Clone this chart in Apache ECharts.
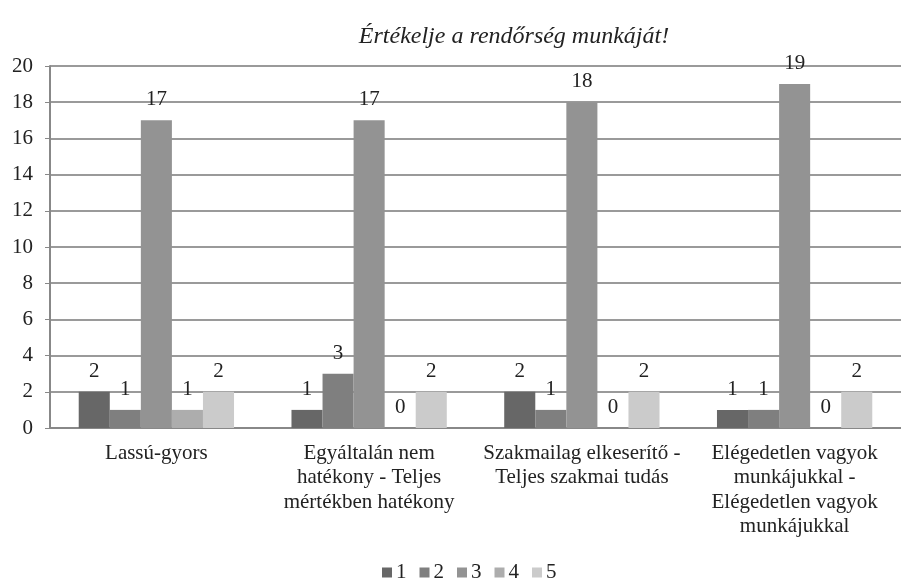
<!DOCTYPE html>
<html>
<head>
<meta charset="utf-8">
<script src="https://cdn.jsdelivr.net/npm/echarts@6/dist/echarts.min.js"></script>
<style>html,body{margin:0;padding:0;background:#fff}#c{width:901px;height:583px}</style>
</head>
<body>
<div id="c"></div>
<script>
const titleText = 'Értékelje a rendőrség munkáját!';
const categories = [
  'Lassú-gyors',
  'Egyáltalán nem\nhatékony - Teljes\nmértékben hatékony',
  'Szakmailag elkeserítő -\nTeljes szakmai tudás',
  'Elégedetlen vagyok\nmunkájukkal -\nElégedetlen vagyok\nmunkájukkal'
];
const seriesNames = ['1', '2', '3', '4', '5'];
const s1 = [2, 1, 2, 1];
const s2 = [1, 3, 1, 1];
const s3 = [17, 17, 18, 19];
const s4 = [1, 0, 0, 0];
const s5 = [2, 2, 2, 2];
const seriesValues = [s1, s2, s3, s4, s5];
const colors = ['#676767', '#7f7f7f', '#939393', '#adadad', '#cbcbcb'];
const yTicks = [0, 2, 4, 6, 8, 10, 12, 14, 16, 18, 20];

const font = 'Liberation Serif';
const chart = echarts.init(document.getElementById('c'), null, {renderer: 'canvas'});
chart.setOption({
  animation: false,
  textStyle: {fontFamily: font},
  title: {
    text: titleText,
    left: 509, top: 20, textAlign: 'center',
    textStyle: {fontFamily: font, fontStyle: 'italic', fontWeight: 'normal', fontSize: 24, color: '#222'}
  },
  legend: {
    data: seriesNames,
    bottom: 0, left: 382, padding: 0,
    itemWidth: 10, itemHeight: 10, itemGap: 13,
    icon: 'rect',
    textStyle: {fontFamily: font, fontSize: 21, color: '#222', padding: [0, 0, 0, -1]}
  },
  grid: {left: 50, top: 66, width: 860, height: 362, containLabel: false},
  xAxis: {
    type: 'category',
    data: categories,
    axisLine: {lineStyle: {color: '#888', width: 2}},
    axisTick: {show: false},
    axisLabel: {interval: 0, margin: 13, fontFamily: font, fontSize: 21, color: '#222', lineHeight: 24.5, align: 'center'}
  },
  yAxis: {
    type: 'value',
    min: yTicks[0], max: yTicks[yTicks.length - 1], interval: 2,
    axisLine: {show: true, lineStyle: {color: '#888', width: 2}},
    axisTick: {show: true, length: 5, lineStyle: {color: '#888'}},
    splitLine: {lineStyle: {color: '#9a9a9a', width: 2}},
    axisLabel: {margin: 17, fontFamily: font, fontSize: 21, color: '#222'}
  },
  series: seriesNames.map((n, i) => ({
    name: n,
    type: 'bar',
    data: seriesValues[i],
    barGap: '0%',
    barCategoryGap: '27%',
    itemStyle: {color: colors[i]},
    label: {show: true, position: 'top', distance: 10, fontFamily: font, fontSize: 21, color: '#222'}
  }))
});
</script>
</body>
</html>
